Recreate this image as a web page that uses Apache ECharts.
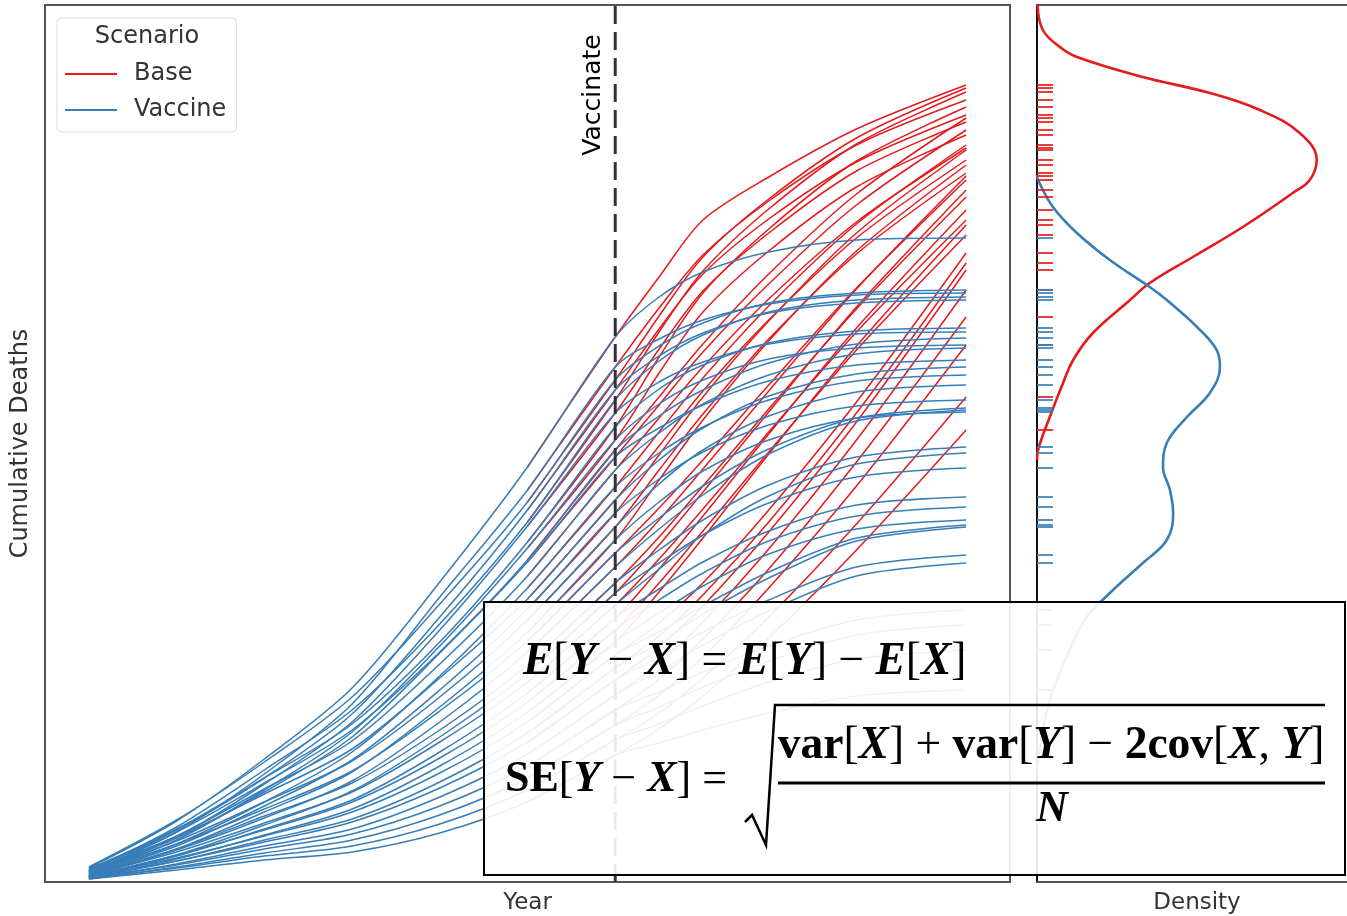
<!DOCTYPE html>
<html>
<head>
<meta charset="utf-8">
<script src="https://cdn.jsdelivr.net/npm/echarts@6/dist/echarts.min.js"></script>
<style>
  html, body { margin: 0; padding: 0; background: #fff; }
  #chart { width: 1347px; height: 916px; }
</style>
</head>
<body>
<div id="chart"></div>
<script>
// Simulated cumulative deaths per run: shared history up to vaccination,
// then a "Base" continuation and a "Vaccine" continuation.
const PRE_T = [0, 8, 16, 24, 32, 40, 48];
const POST_T = [52, 56, 62, 70, 80];
const VACCINATE_T = 48;

const PRE = [
  [14, 61, 123, 194, 300, 415, 545],
  [10, 50, 108, 178, 285, 392, 515],
  [15, 62, 120, 185, 278, 380, 502],
  [12, 52, 104, 168, 265, 372, 492],
  [11, 55, 112, 172, 258, 360, 482],
  [9, 45, 98, 160, 252, 356, 469],
  [13, 53, 104, 158, 240, 340, 455],
  [8, 42, 92, 150, 236, 334, 442],
  [12, 50, 99, 152, 230, 322, 432],
  [10, 44, 90, 145, 229, 320, 425],
  [11, 46, 93, 141, 218, 306, 412],
  [7, 38, 80, 130, 206, 294, 395],
  [11, 45, 88, 133, 204, 283, 382],
  [8, 36, 76, 122, 192, 273, 369],
  [10, 41, 80, 121, 185, 262, 355],
  [6, 33, 70, 110, 175, 250, 342],
  [9, 38, 73, 111, 171, 241, 329],
  [7, 32, 64, 101, 160, 230, 315],
  [8, 33, 66, 99, 152, 217, 299],
  [5, 27, 57, 91, 145, 209, 289],
  [7, 30, 59, 90, 140, 200, 277],
  [6, 26, 53, 82, 130, 189, 264],
  [6, 27, 52, 80, 124, 180, 252],
  [5, 23, 47, 73, 116, 170, 240],
  [6, 24, 46, 70, 109, 160, 227],
  [4, 21, 42, 63, 100, 149, 214],
  [5, 21, 40, 60, 94, 140, 202],
  [4, 18, 36, 53, 85, 128, 187],
  [4, 17, 33, 48, 76, 116, 172],
  [3, 15, 29, 42, 67, 104, 157],
  [4, 14, 26, 36, 58, 92, 142],
  [3, 12, 22, 30, 49, 80, 127]
];

const BASE_POST = [
  [605, 662, 705, 753, 797],
  [574, 627, 681, 737, 782],
  [566, 625, 683, 744, 794],
  [553, 608, 663, 720, 767],
  [550, 611, 673, 738, 790],
  [533, 591, 649, 711, 760],
  [525, 589, 653, 721, 775],
  [509, 570, 631, 695, 747],
  [485, 538, 608, 688, 764],
  [477, 530, 598, 677, 752],
  [464, 515, 583, 660, 734],
  [450, 504, 576, 658, 737],
  [436, 491, 562, 644, 722],
  [427, 485, 561, 649, 732],
  [412, 468, 543, 628, 709],
  [402, 462, 541, 631, 717],
  [374, 422, 497, 594, 702],
  [362, 413, 491, 593, 706],
  [345, 396, 473, 573, 685],
  [337, 390, 470, 575, 692],
  [323, 373, 450, 550, 662],
  [313, 366, 448, 554, 672],
  [299, 351, 430, 532, 647],
  [290, 344, 428, 536, 657],
  [259, 299, 372, 480, 629],
  [246, 287, 360, 469, 619],
  [235, 276, 350, 460, 612],
  [219, 260, 333, 442, 592],
  [203, 243, 313, 420, 565],
  [187, 225, 294, 396, 537],
  [169, 204, 265, 358, 485],
  [153, 186, 244, 332, 452]
];

const VACCINE_POST = [
  [585, 610, 630, 642, 644],
  [543, 562, 578, 587, 589],
  [536, 559, 579, 589, 592],
  [526, 549, 569, 579, 582],
  [521, 547, 570, 582, 585],
  [500, 520, 538, 548, 550],
  [493, 517, 539, 551, 554],
  [478, 502, 523, 534, 537],
  [466, 492, 519, 538, 544],
  [454, 477, 501, 517, 522],
  [449, 478, 507, 528, 534],
  [429, 455, 482, 501, 507],
  [422, 454, 486, 508, 515],
  [403, 430, 457, 476, 482],
  [398, 432, 466, 490, 497],
  [380, 411, 442, 464, 470],
  [364, 396, 433, 464, 474],
  [353, 387, 428, 461, 472],
  [332, 362, 397, 425, 435],
  [319, 347, 379, 405, 414],
  [313, 347, 386, 418, 429],
  [293, 320, 351, 377, 385],
  [282, 309, 341, 366, 375],
  [269, 296, 328, 353, 362],
  [250, 276, 310, 344, 357],
  [239, 268, 304, 341, 355],
  [225, 250, 282, 315, 327],
  [211, 237, 271, 306, 319],
  [190, 210, 236, 262, 272],
  [175, 195, 221, 247, 257],
  [158, 176, 200, 223, 232],
  [139, 152, 169, 186, 192]
];

// Kernel density of the final values (density x1000, deaths level)
const BASE_KDE_LEVEL = [877, 852, 835, 825, 805, 789, 772, 749, 722, 702, 689, 655, 625, 599, 582, 549, 522, 499, 465, 432, 422];
const BASE_KDE_DENS = [0.01, 0.11, 0.43, 0.75, 1.99, 3.25, 4.19, 4.94, 5.26, 5.13, 4.81, 3.87, 2.93, 2.12, 1.75, 1.05, 0.68, 0.49, 0.24, 0.02, 0.0];
const VACCINE_KDE_LEVEL = [707, 702, 675, 649, 622, 595, 582, 555, 532, 515, 489, 465, 439, 415, 392, 369, 342, 319, 289, 262, 222, 182, 142, 112];
const VACCINE_KDE_DENS = [0.0, 0.02, 0.30, 0.75, 1.37, 2.12, 2.44, 3.01, 3.38, 3.44, 3.25, 2.82, 2.44, 2.37, 2.50, 2.56, 2.44, 1.99, 1.37, 0.90, 0.53, 0.24, 0.08, 0.0];

const SCENARIOS = ['Base', 'Vaccine'];
const RED = '#e41a1c';
const BLUE = '#377eb8';
const FONT = '"DejaVu Sans", sans-serif';
const MATH = '"Liberation Serif", serif';

const Y_MAX = 877;
const DENS_MAX = 5.83;
const RUG_DENS = 0.15;

// Full run: shared history followed by one scenario's continuation.
// The base runs start one step before vaccination; earlier history is
// identical to the vaccine runs and sits underneath them.
function track(pre, post, from) {
  const head = PRE_T.map((t, i) => [t, pre[i]]).slice(from);
  return head.concat(POST_T.map((t, i) => [t, post[i]]));
}

function runSeries(name, color, posts, from, z) {
  return PRE.map((pre, i) => ({
    type: 'line', name: name, xAxisIndex: 0, yAxisIndex: 0,
    data: track(pre, posts[i], from),
    symbol: 'none', smooth: 0.3,
    lineStyle: { color: color, width: 1.5 }, itemStyle: { color: color },
    silent: true, z: z
  }));
}

function kdeSeries(dens, level, color) {
  return {
    type: 'line', xAxisIndex: 1, yAxisIndex: 1,
    data: dens.map((d, i) => [d, level[i]]),
    symbol: 'none', smooth: 0.4,
    lineStyle: { color: color, width: 2.6 }, silent: true, z: 3
  };
}

function rugSeries(posts, color) {
  return {
    type: 'scatter', xAxisIndex: 1, yAxisIndex: 1,
    data: posts.map(p => [RUG_DENS, p[p.length - 1]]),
    symbol: 'rect', symbolSize: [16, 2],
    itemStyle: { color: color, opacity: 0.85 }, silent: true, z: 4
  };
}

const hiddenAxis = {
  axisLine: { show: false }, axisTick: { show: false },
  axisLabel: { show: false }, splitLine: { show: false }
};
const nameStyle = { fontFamily: FONT, fontSize: 23, color: '#333' };

const chart = echarts.init(document.getElementById('chart'), null, { renderer: 'canvas' });

const option = {
  animation: false,
  backgroundColor: '#fff',
  grid: [
    { left: 45, top: 5, width: 965, height: 877, outerBoundsMode: 'none', containLabel: false,
      show: true, borderColor: '#555', borderWidth: 2, backgroundColor: 'transparent' },
    { left: 1037, top: 5, width: 310, height: 877, outerBoundsMode: 'none', containLabel: false, show: false }
  ],
  xAxis: [
    Object.assign({ gridIndex: 0, type: 'value', min: -4, max: 84,
      name: 'Year', nameLocation: 'middle', nameGap: 10, nameTextStyle: nameStyle }, hiddenAxis),
    Object.assign({ gridIndex: 1, type: 'value', min: 0, max: DENS_MAX,
      name: 'Density', nameLocation: 'middle', nameGap: 10,
      nameTextStyle: Object.assign({ padding: [0, 0, 0, 10] }, nameStyle) }, hiddenAxis,
      { axisLine: { show: true, lineStyle: { color: '#555', width: 2 } } }),
    Object.assign({ gridIndex: 1, type: 'value', position: 'top', min: 0, max: DENS_MAX }, hiddenAxis,
      { axisLine: { show: true, lineStyle: { color: '#555', width: 2 } } })
  ],
  yAxis: [
    Object.assign({ gridIndex: 0, type: 'value', min: 0, max: Y_MAX,
      name: 'Cumulative Deaths', nameLocation: 'middle', nameRotate: 90, nameGap: 12,
      nameTextStyle: Object.assign({}, nameStyle, { fontSize: 24 }) }, hiddenAxis),
    Object.assign({ gridIndex: 1, type: 'value', min: 0, max: Y_MAX }, hiddenAxis,
      { axisLine: { show: true, lineStyle: { color: '#111', width: 2 } } })
  ],
  legend: {
    data: SCENARIOS, orient: 'vertical', left: 57, top: 18,
    padding: [43, 10, 9, 8], itemGap: 10, itemWidth: 52, itemHeight: 2, icon: 'rect',
    backgroundColor: '#fff', borderColor: '#ddd', borderWidth: 1, borderRadius: 4,
    textStyle: { fontFamily: FONT, fontSize: 24, color: '#333', lineHeight: 26, padding: [0, 0, 0, 12] },
    selectedMode: false, z: 10
  },
  graphic: [
    { type: 'text', x: 147, y: 37, z: 20,
      style: { text: 'Scenario', font: '24px ' + FONT, fill: '#333', align: 'center', verticalAlign: 'middle' } },
    { type: 'text', x: 593, y: 95, rotation: Math.PI / 2, z: 20,
      style: { text: 'Vaccinate', font: '25px ' + FONT, fill: '#000', align: 'center', verticalAlign: 'middle' } },
    { type: 'rect', z: 50, shape: { x: 484, y: 602, width: 861, height: 273 },
      style: { fill: 'rgba(255,255,255,0.9)', stroke: '#000', lineWidth: 2 } },
    { type: 'text', x: 523, y: 662, z: 51,
      style: {
        text: '{v|E}{r|[}{v|Y}{r| − }{v|X}{r|] = }{v|E}{r|[}{v|Y}{r|] − }{v|E}{r|[}{v|X}{r|]}',
        align: 'left', verticalAlign: 'middle',
        rich: {
          v: { fontFamily: MATH, fontSize: 45.5, fontWeight: 'bold', fontStyle: 'italic', fill: '#000' },
          r: { fontFamily: MATH, fontSize: 45.5, fill: '#000' }
        }
      } },
    { type: 'text', x: 505, y: 780, z: 51,
      style: {
        text: '{b|SE}{r|[}{v|Y}{r| − }{v|X}{r|] =}',
        align: 'left', verticalAlign: 'middle',
        rich: {
          b: { fontFamily: MATH, fontSize: 44, fontWeight: 'bold', fill: '#000' },
          v: { fontFamily: MATH, fontSize: 44, fontWeight: 'bold', fontStyle: 'italic', fill: '#000' },
          r: { fontFamily: MATH, fontSize: 44, fill: '#000' }
        }
      } },
    { type: 'text', x: 1051, y: 746, z: 51,
      style: {
        text: '{b|var}{r|[}{v|X}{r|] + }{b|var}{r|[}{v|Y}{r|] − }{b|2cov}{r|[}{v|X}{r|, }{v|Y}{r|]}',
        align: 'center', verticalAlign: 'middle',
        rich: {
          b: { fontFamily: MATH, fontSize: 45.5, fontWeight: 'bold', fill: '#000' },
          v: { fontFamily: MATH, fontSize: 45.5, fontWeight: 'bold', fontStyle: 'italic', fill: '#000' },
          r: { fontFamily: MATH, fontSize: 45.5, fill: '#000' }
        }
      } },
    { type: 'text', x: 1052, y: 810, z: 51,
      style: { text: 'N', font: 'italic bold 44px ' + MATH, fill: '#000', align: 'center', verticalAlign: 'middle' } },
    { type: 'polyline', z: 51,
      shape: { points: [[745, 822], [752, 815], [766, 845], [775, 705], [1325, 705]] },
      style: { stroke: '#000', lineWidth: 2.5, fill: null } },
    { type: 'line', z: 51, shape: { x1: 778, y1: 783, x2: 1325, y2: 783 },
      style: { stroke: '#000', lineWidth: 3 } }
  ],
  series: [].concat(
    runSeries('Base', RED, BASE_POST, 5, 2),
    runSeries('Vaccine', BLUE, VACCINE_POST, 0, 3),
    [{
      type: 'line', xAxisIndex: 0, yAxisIndex: 0,
      data: [[VACCINATE_T, 0], [VACCINATE_T, Y_MAX]],
      symbol: 'none', lineStyle: { color: '#333', width: 3, type: [18, 8] }, silent: true, z: 5
    },
    kdeSeries(BASE_KDE_DENS, BASE_KDE_LEVEL, RED),
    kdeSeries(VACCINE_KDE_DENS, VACCINE_KDE_LEVEL, BLUE),
    rugSeries(BASE_POST, RED),
    rugSeries(VACCINE_POST, BLUE)]
  )
};

chart.setOption(option);
</script>
</body>
</html>
